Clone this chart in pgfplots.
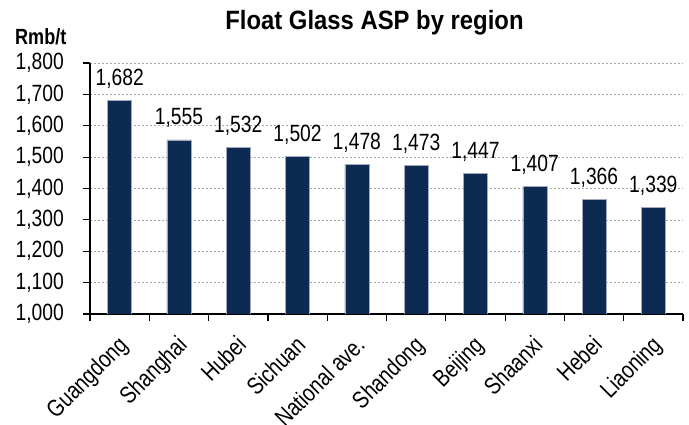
\documentclass[border=0pt]{standalone}
\usepackage{fontspec}
\setmainfont{Liberation Sans}[FakeStretch=0.82]
\newfontfamily\titlefont{Liberation Sans}[FakeStretch=0.9]
\usepackage{pgfplots}
\pgfplotsset{compat=1.18}
\definecolor{barblue}{HTML}{0C2A52}
\definecolor{baredge}{HTML}{A0AABC}
\begin{document}
\begin{tikzpicture}
\begin{axis}[
  name=ax, scale only axis, width=593pt, height=251pt,
  xmin=-0.5, xmax=9.5, ymin=1000, ymax=1800,
  ytick={1000,1100,...,1800},
  xtick={0,...,9},
  xticklabels={Guangdong,Shanghai,Hubei,Sichuan,National ave.,Shandong,Beijing,Shaanxi,Hebei,Liaoning},
  minor xtick={-0.5,0.5,...,9.5},
  axis x line*=bottom, axis y line*=left,
  axis line style={line width=1.2pt, -},
  tick align=outside, major tick length=7pt, minor tick length=7pt,
  tick style={black, line width=1.2pt},
  major x tick style={draw=none},
  minor x tick style={black, line width=1.2pt},
  ymajorgrids, grid style={gray!70, line width=0.6pt, dash pattern=on 2pt off 2pt},
  /pgf/number format/.cd, 1000 sep={,}, assume math mode=true, /pgfplots/.cd,
  yticklabel style={font=\fontsize{23.5}{27}\selectfont, inner sep=0pt, xshift=-19pt},
  xticklabel style={font=\fontsize{24}{28}\selectfont, xshift=-3pt, yshift=-13pt, rotate=45, anchor=north east, inner sep=0pt},
  ybar, bar width=24pt,
  nodes near coords,
  nodes near coords style={font=\fontsize{23.5}{27}\selectfont, anchor=base, yshift=15pt, inner sep=0pt},
]
\addplot[fill=barblue, draw=baredge, line width=0.5pt] coordinates {
(0,1682) (1,1555) (2,1532) (3,1502) (4,1478) (5,1473) (6,1447) (7,1407) (8,1366) (9,1339)};
\end{axis}
\node[font=\titlefont\bfseries\fontsize{26.5}{30}\selectfont, anchor=base] at ([xshift=-12pt, yshift=33pt]ax.north) {Float Glass ASP by region};
\node[font=\bfseries\fontsize{22}{26}\selectfont, anchor=base west, inner sep=0pt] at ([xshift=-75pt, yshift=18pt]ax.north west) {Rmb/t};
\pgfresetboundingbox
\path[use as bounding box] ([shift={(-90pt,-111pt)}]ax.south west) rectangle ([shift={(6pt,63pt)}]ax.north east);
\end{tikzpicture}
\end{document}
